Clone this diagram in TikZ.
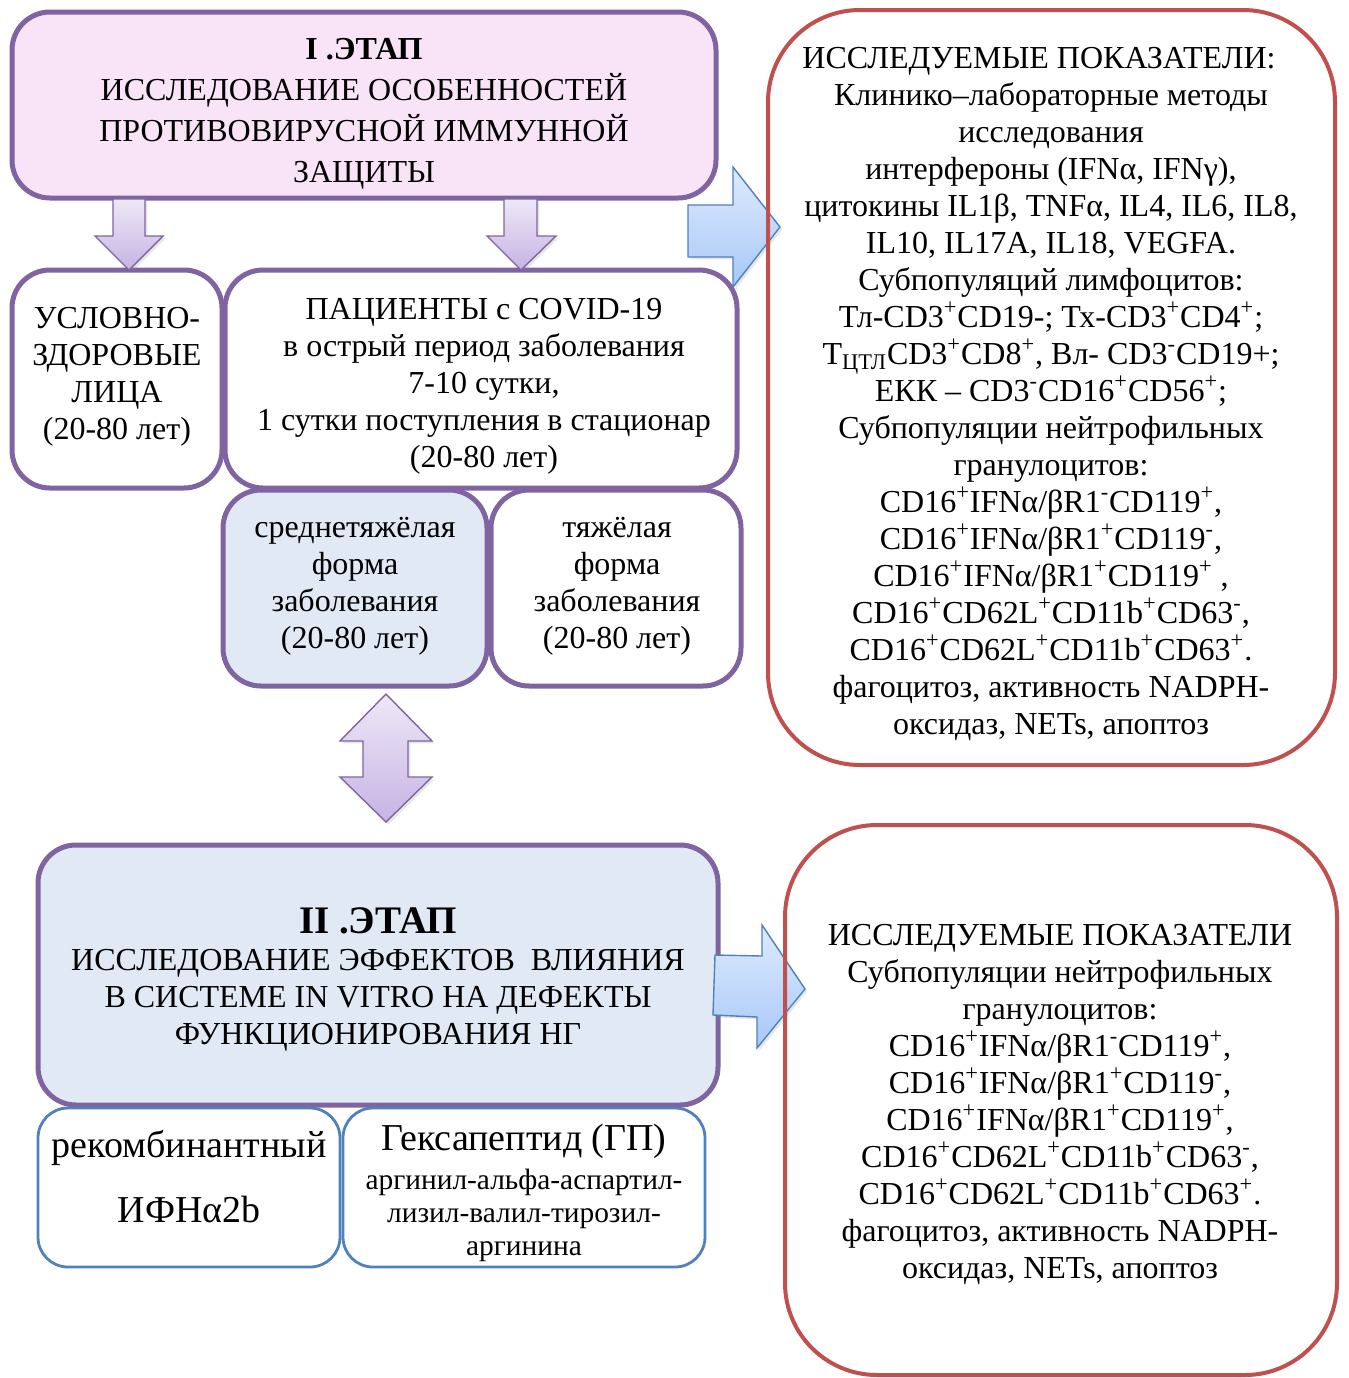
\documentclass[tikz,border=0pt]{standalone}
\usepackage{fontspec}
\setmainfont{Liberation Serif}
\usepackage{xcolor}
\usetikzlibrary{shadows}
\definecolor{stagepurple}{HTML}{8064A2}
\definecolor{stagepink}{HTML}{F8E4F6}
\definecolor{paleblue}{HTML}{E1E9F5}
\definecolor{markred}{HTML}{C0504D}
\definecolor{agentblue}{HTML}{4F81BD}
\definecolor{lilactop}{HTML}{EEE8F7}
\definecolor{lilacbot}{HTML}{C6B3E3}
\definecolor{skytop}{HTML}{DEEAFD}
\definecolor{skybot}{HTML}{A8C8F7}
\newcommand{\splus}{\textsuperscript{+}}
\newcommand{\sminus}{\textsuperscript{-}}

\tikzset{
  stagebox/.style={draw=stagepurple, line width=2.5pt, rounded corners=19pt},
  markbox/.style={draw=markred, line width=2pt, rounded corners=46pt},
  agentbox/.style={draw=agentblue, line width=1.4pt, rounded corners=15pt, fill=white},
  softshadow/.style={drop shadow={opacity=0.2, shadow xshift=1.2pt, shadow yshift=-1.2pt}},
  lilacarrow/.style={draw=stagepurple, line width=0.7pt, top color=lilactop, bottom color=lilacbot, softshadow},
  skyarrow/.style={draw=agentblue, line width=0.7pt, top color=skytop, bottom color=skybot, softshadow},
  txt/.style={align=center, inner sep=0.75pt, font=\fontsize{16}{18.5}\selectfont},
}

\begin{document}
\begin{tikzpicture}[x=0.5pt,y=0.5pt,yscale=-1]
\useasboundingbox (0,0) rectangle (1349,1378);

%Shape: Rectangle [id:stage1]
\draw [stagebox, fill=stagepink] (12,12) rectangle (716,198) ;
%Shape: Rectangle [id:healthy]
\draw [stagebox, fill=white] (12,270) rectangle (222,488) ;
%Shape: Rectangle [id:patients]
\draw [stagebox, fill=white] (225,270) rectangle (737,488) ;
%Shape: Rectangle [id:moderate]
\draw [stagebox, fill=paleblue] (223,490) rectangle (487,686) ;
%Shape: Rectangle [id:severe]
\draw [stagebox, fill=white] (491,490) rectangle (741,686) ;
%Shape: Rectangle [id:stage2]
\draw [stagebox, fill=paleblue] (38,845) rectangle (718,1105) ;
%Shape: Rectangle [id:ifn]
\draw [agentbox] (38,1108) rectangle (340,1267) ;
%Shape: Rectangle [id:hexa]
\draw [agentbox] (343,1108) rectangle (705,1267) ;

%Shape: Down Arrow [id:down1]
\draw [lilacarrow] (113,199) -- (145,199) -- (145,236) -- (163,236) -- (129,270) -- (95,236) -- (113,236) -- cycle ;
%Shape: Down Arrow [id:down2]
\draw [lilacarrow] (504,199) -- (537,199) -- (537,236) -- (556,236) -- (521,270) -- (487,236) -- (504,236) -- cycle ;
%Shape: Up Down Arrow [id:updown]
\draw [lilacarrow] (386,694) -- (432,741) -- (408,741) -- (408,777) -- (432,777) -- (386,822) -- (340,777) -- (363,777) -- (363,741) -- (340,741) -- cycle ;
%Shape: Right Arrow [id:right1]
\draw [skyarrow] (688,205) -- (733,205) -- (733,167) -- (780,227) -- (733,287) -- (733,257) -- (688,257) -- cycle ;
%Shape: Right Arrow [id:right2]
\draw [skyarrow] (715,955) -- (762,956) -- (762,925) -- (805,989) -- (757,1048) -- (757,1017) -- (713,1015) -- cycle ;

%Shape: Rectangle [id:marks1]
\draw [markbox] (768,10) rectangle (1335,765) ;
%Shape: Rectangle [id:marks2]
\draw [markbox] (785,825) rectangle (1337,1375) ;

% Text Node
\draw (364,114) node [txt, font=\fontsize{16}{20.5}\selectfont] (stageonetext) {\textbf{I .ЭТАП}\\ИССЛЕДОВАНИЕ ОСОБЕННОСТЕЙ\\ПРОТИВОВИРУСНОЙ ИММУННОЙ\\ЗАЩИТЫ};
% Text Node
\draw (117,377) node [txt] (healthytext) {УСЛОВНО-\\ЗДОРОВЫЕ\\ЛИЦА\\(20-80 лет)};
% Text Node
\draw (484,386) node [txt] (patientstext) {ПАЦИЕНТЫ с COVID-19\\в острый период заболевания\\7-10 сутки,\\1 сутки поступления в стационар\\(20-80 лет)};
% Text Node
\draw (355,586) node [txt] (moderatetext) {среднетяжёлая\\форма\\заболевания\\(20-80 лет)};
% Text Node
\draw (617,586) node [txt] (severetext) {тяжёлая\\форма\\заболевания\\(20-80 лет)};
% Text Node
\draw (1051,394) node [txt] (marksonetext) {ИССЛЕДУЕМЫЕ ПОКАЗАТЕЛИ:\hspace*{12pt}\\Клинико–лабораторные методы\\исследования\\интерфероны (IFNα, IFNγ),\\цитокины IL1β, TNFα, IL4, IL6, IL8,\\IL10, IL17A, IL18, VEGFA.\\Субпопуляций лимфоцитов:\\Тл-CD3\splus CD19-; Тх-CD3\splus CD4\splus;\\Т\textsubscript{ЦТЛ}CD3\splus CD8\splus, Вл- CD3\sminus CD19+;\\ЕКК – CD3\sminus CD16\splus CD56\splus;\\Субпопуляции нейтрофильных\\гранулоцитов:\\CD16\splus IFNα/βR1\sminus CD119\splus,\\CD16\splus IFNα/βR1\splus CD119\sminus,\\CD16\splus IFNα/βR1\splus CD119\splus{} ,\\CD16\splus CD62L\splus CD11b\splus CD63\sminus,\\CD16\splus CD62L\splus CD11b\splus CD63\splus.\\фагоцитоз, активность NADPH-\\оксидаз, NETs, апоптоз};
% Text Node
\draw (378,979) node [txt] (stagetwotext) {{\fontsize{19.5}{22}\selectfont\textbf{II .ЭТАП}}\\ИССЛЕДОВАНИЕ ЭФФЕКТОВ\ \ ВЛИЯНИЯ\\В СИСТЕМЕ IN VITRO НА ДЕФЕКТЫ\\ФУНКЦИОНИРОВАНИЯ НГ};
% Text Node
\draw (189,1177) node [txt, font=\fontsize{19}{32.5}\selectfont] (ifntext) {рекомбинантный\\ИФНα2b};
% Text Node
\draw (524,1193) node [txt, font=\fontsize{14.7}{16.5}\selectfont] (hexatext) {{\fontsize{19}{20}\selectfont Гексапептид (ГП)}\\[3pt]аргинил-альфа-аспартил-\\лизил-валил-тирозил-\\аргинина};
% Text Node
\draw (1060,1104) node [txt] (markstwotext) {ИССЛЕДУЕМЫЕ ПОКАЗАТЕЛИ\\Субпопуляции нейтрофильных\\гранулоцитов:\\CD16\splus IFNα/βR1\sminus CD119\splus,\\CD16\splus IFNα/βR1\splus CD119\sminus,\\CD16\splus IFNα/βR1\splus CD119\splus,\\CD16\splus CD62L\splus CD11b\splus CD63\sminus,\\CD16\splus CD62L\splus CD11b\splus CD63\splus.\\фагоцитоз, активность NADPH-\\оксидаз, NETs, апоптоз};

\end{tikzpicture}
\end{document}
